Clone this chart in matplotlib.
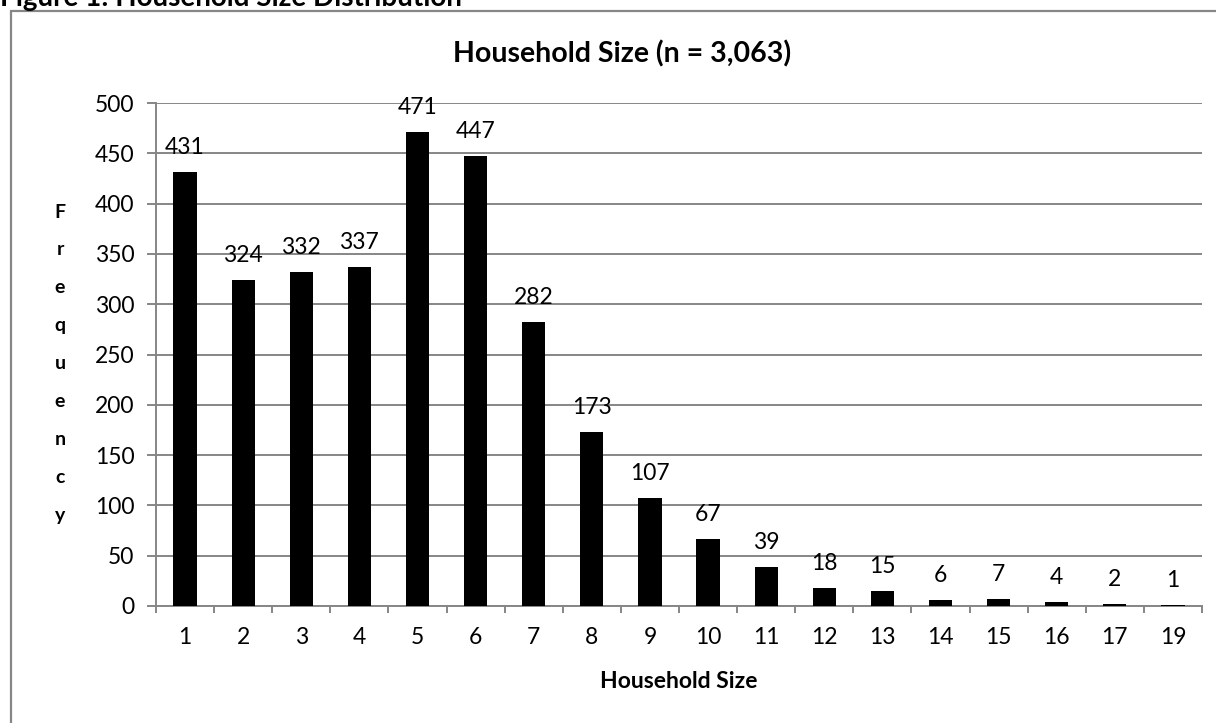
import matplotlib.pyplot as plt
from matplotlib.patches import Rectangle

sizes = ['1', '2', '3', '4', '5', '6', '7', '8', '9', '10',
         '11', '12', '13', '14', '15', '16', '17', '19']
counts = [431, 324, 332, 337, 471, 447, 282, 173, 107, 67,
          39, 18, 15, 6, 7, 4, 2, 1]

plt.rcParams['font.family'] = ['Lato', 'DejaVu Sans']
GRAY = '#868686'

W, H = 1216, 723
fig = plt.figure(figsize=(W / 100, H / 100), dpi=100)

# chart frame, runs off the right and bottom edge
fig.patches.append(Rectangle((11 / W, -0.1), 1.2, 1 - 11 / H + 0.1,
                             transform=fig.transFigure, fill=False,
                             edgecolor=GRAY, linewidth=1.6))
fig.text(0, 1 - 6 / H, 'Figure 1: Household Size Distribution',
         fontsize=20, fontweight='bold', ha='left', va='baseline')

ax = fig.add_axes([156 / W, 1 - 606 / H, (1202 - 156) / W, (606 - 103) / H])
x = range(len(sizes))
ax.bar(x, counts, width=0.4, color='black', zorder=3)
for xi, c in zip(x, counts):
    ax.annotate(str(c), (xi, c), xytext=(0, 13), textcoords='offset points',
                ha='center', va='baseline', fontsize=16.5)

ax.set_xlim(-0.5, len(sizes) - 0.5)
ax.set_ylim(0, 500)
ax.set_yticks(range(0, 501, 50))
ax.set_xticks(x)
ax.set_xticklabels(sizes)
ax.set_xticks([i - 0.5 for i in range(len(sizes) + 1)], minor=True)
ax.tick_params(axis='x', which='major', length=0, labelsize=16.5, pad=15)
ax.tick_params(axis='x', which='minor', length=5, width=1.4, color=GRAY)
ax.tick_params(axis='y', length=6.5, width=1.4, color=GRAY, labelsize=16.5, pad=9)
ax.grid(axis='y', color=GRAY, linewidth=1.4, zorder=0)
for s in ['top', 'right']:
    ax.spines[s].set_visible(False)
for s in ['left', 'bottom']:
    ax.spines[s].set_color(GRAY)
    ax.spines[s].set_linewidth(1.4)

fig.text(622 / W, 1 - 62 / H, 'Household Size (n = 3,063)', fontsize=20.5,
         fontweight='bold', ha='center', va='baseline')
fig.text(679 / W, 1 - 682 / H, 'Household Size', fontsize=16.5,
         fontweight='bold', ha='center', va='center')

# axis title stacked one letter per line
for i, ch in enumerate('Frequency'):
    fig.text(60 / W, 1 - (212 + i * 37.9) / H, ch, fontsize=14,
             fontweight='bold', ha='center', va='center')

fig.savefig('out.png', dpi=100)
